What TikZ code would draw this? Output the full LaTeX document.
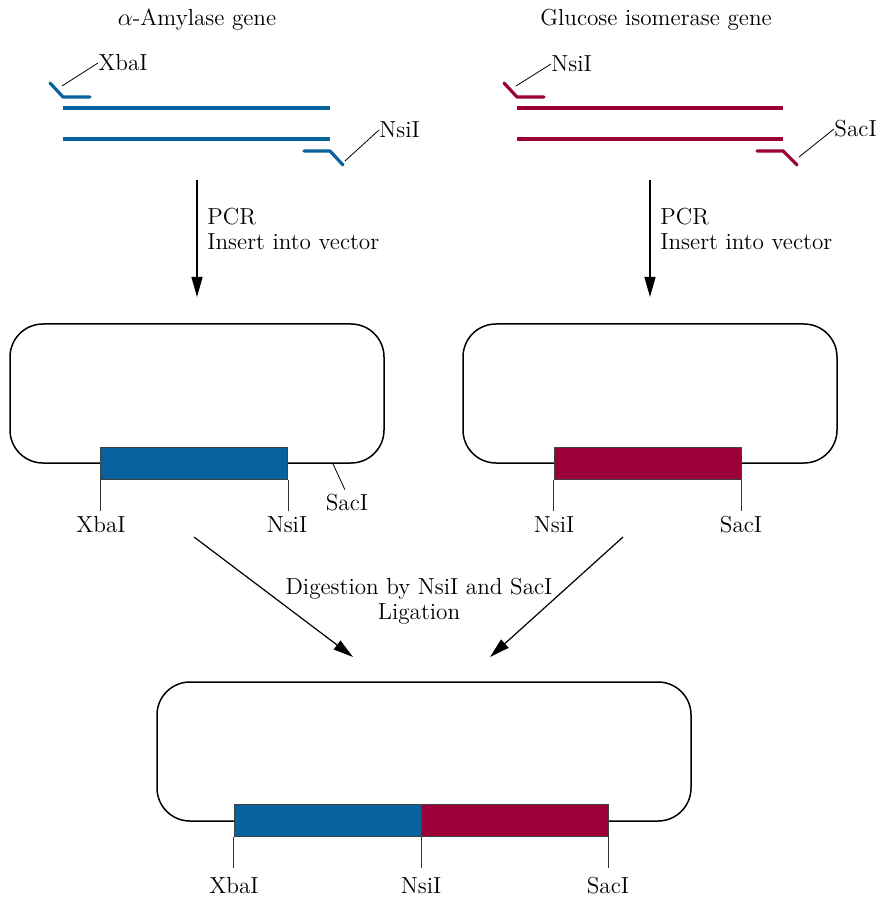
\documentclass[tikz,border=0pt]{standalone}
\usepackage{tikz}
\usetikzlibrary{arrows.meta}
\usepackage{xcolor}
\definecolor{amyblue}{RGB}{8,98,158}
\definecolor{isored}{RGB}{155,0,56}

\begin{document}
\begin{tikzpicture}[x=0.5pt,y=-0.5pt,
  lbl/.style={font=\fontsize{11.6}{12.5}\selectfont,inner sep=0pt},
  strand/.style={line width=1.6pt},
  primer/.style={line width=1.6pt,line cap=round,line join=round},
  lead/.style={line width=0.4pt},
  tick/.style={line width=0.5pt,black!80},
  vec/.style={line width=0.75pt,rounded corners=16.5pt},
  gene/.style={draw=black!75,line width=0.5pt,minimum width=93.5pt,minimum height=16pt,inner sep=0pt},
  flow/.style={line width=0.6pt,-{Triangle[length=10pt,width=5.5pt]}}]
  \useasboundingbox (0,0) rectangle (879,897);
  % genes to amplify
  \node[lbl] (amytitle) at (197,20) {$\alpha$-Amylase gene};
  \node[lbl] (isotitle) at (656,20) {Glucose isomerase gene};
  \draw[strand,amyblue] (63,108)--(330,108);
  \draw[strand,amyblue] (63,139)--(330,139);
  \draw[primer,amyblue] (50,83)--(63,97)--(90,97);
  \draw[primer,amyblue] (304,151)--(330,151)--(343,165);
  \draw[strand,isored] (517,108)--(783,108);
  \draw[strand,isored] (517,139)--(783,139);
  \draw[primer,isored] (504,83)--(517,97)--(544,97);
  \draw[primer,isored] (757,151)--(783,151)--(797,165);
  % primer sites
  \coordinate (xbaend) at (62,86);
  \coordinate (nsiend) at (345,161);
  \coordinate (nsiendb) at (516,86);
  \coordinate (sacend) at (799,157);
  \node[lbl,anchor=west] (xbaprim) at (98,63) {XbaI};
  \node[lbl,anchor=west] (nsiprim) at (379,130) {NsiI};
  \node[lbl,anchor=west] (nsiprimb) at (551,64) {NsiI};
  \node[lbl,anchor=west] (sacprim) at (834,129) {SacI};
  \draw[lead] (xbaend)--(xbaprim.west);
  \draw[lead] (nsiend)--(nsiprim.west);
  \draw[lead] (nsiendb)--(nsiprimb.west);
  \draw[lead] (sacend)--(sacprim.west);
  % PCR step
  \coordinate (amyfrom) at (197,180);
  \coordinate (amyto) at (197,297);
  \coordinate (isofrom) at (650,180);
  \coordinate (isoto) at (650,297);
  \draw[flow] (amyfrom)--(amyto);
  \draw[flow] (isofrom)--(isoto);
  \node[lbl,anchor=west] (pcra) at (207,217) {PCR};
  \node[lbl,anchor=west] (insa) at (207,242) {Insert into vector};
  \node[lbl,anchor=west] (pcrb) at (660,217) {PCR};
  \node[lbl,anchor=west] (insb) at (660,242) {Insert into vector};
  % vectors with one gene each
  \draw[vec] (10,324) rectangle (384,463);
  \draw[vec] (463,324) rectangle (837,463);
  \node[gene,fill=amyblue] (amyins) at (194,463) {};
  \node[gene,fill=isored] (isoins) at (647.5,463) {};
  \draw[tick] (amyins.south west)--++(0,31);
  \draw[tick] (amyins.south east)--++(0,31);
  \draw[tick] (isoins.south west)--++(0,31);
  \draw[tick] (isoins.south east)--++(0,31);
  \node[lbl] (xbaa) at (101,525) {XbaI};
  \node[lbl] (nsia) at (287,525) {NsiI};
  \node[lbl] (nsib) at (554,525) {NsiI};
  \node[lbl] (sacb) at (741,525) {SacI};
  \coordinate (sacsite) at (333,464);
  \node[lbl] (saca) at (347,503) {SacI};
  \draw[lead,shorten >=2.5pt] (sacsite)--(saca.north);
  % digestion and ligation
  \coordinate (digfroma) at (194,537);
  \coordinate (digtoa) at (353,657);
  \coordinate (digfromb) at (623,537);
  \coordinate (digtob) at (490,657);
  \draw[flow] (digfroma)--(digtoa);
  \draw[flow] (digfromb)--(digtob);
  \node[lbl,align=center] (digest) at (419,601) {Digestion by NsiI and SacI\\Ligation};
  % fused construct
  \draw[vec] (157,682) rectangle (691,821);
  \node[gene,fill=amyblue] (amyfus) at (327.5,820.5) {};
  \node[gene,fill=isored] (isofus) at (514.5,820.5) {};
  \draw[tick] (amyfus.south west)--++(0,31);
  \draw[tick] (amyfus.south east)--++(0,31);
  \draw[tick] (isofus.south east)--++(0,31);
  \node[lbl] (xbac) at (234,886) {XbaI};
  \node[lbl] (nsic) at (421,886) {NsiI};
  \node[lbl] (sacc) at (608,886) {SacI};
\end{tikzpicture}
\end{document}
